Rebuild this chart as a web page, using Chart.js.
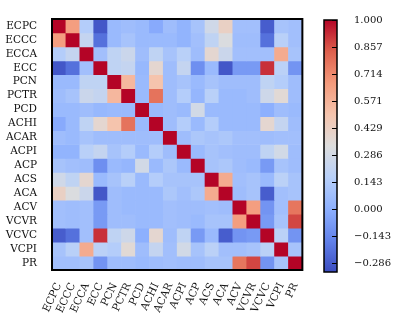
<!DOCTYPE html>
<html>
<head>
<meta charset="utf-8">
<script src="https://cdn.jsdelivr.net/npm/chart.js@4.4.1/dist/chart.umd.min.js"></script>
<style>
  html, body { margin: 0; padding: 0; background: #fff; }
  #wrap { position: relative; width: 405px; height: 327px; overflow: hidden; }
  #heat { position: absolute; left: 0; top: 0; }
  #cbar { position: absolute; left: 310px; top: 0; }
</style>
</head>
<body>
<div id="wrap">
  <canvas id="heat" width="310" height="327"></canvas>
  <canvas id="cbar" width="95" height="327"></canvas>
</div>
<script>
/* ─── Data ───────────────────────────────────────────────────────────────── */
const labels = ['ECPC', 'ECCC', 'ECCA', 'ECC', 'PCN', 'PCTR', 'PCD', 'ACHI', 'ACAR',
                'ACPI', 'ACP', 'ACS', 'ACA', 'ACV', 'VCVR', 'VCVC', 'VCPI', 'PR'];

// upper triangle of the correlation matrix, row i holds columns i+1..17
const upper = [
  [0.65, 0.15, -0.30, 0.05, 0.07, 0.05, -0.02, 0.07, 0.02, 0.10, 0.27, 0.42, 0.08, 0.08, -0.28, 0.10, 0.08],
  [0.22, -0.22, 0.05, 0.10, 0.05, 0.05, 0.05, 0.02, 0.08, 0.20, 0.32, 0.07, 0.07, -0.22, 0.17, 0.08],
  [0.08, 0.20, 0.25, 0.07, 0.20, 0.10, 0.17, 0.07, 0.38, 0.25, 0.08, 0.08, 0.08, 0.60, 0.10],
  [0.20, 0.22, 0.04, 0.38, 0.07, 0.22, -0.12, 0.05, -0.30, -0.08, -0.08, 0.92, 0.18, -0.10],
  [0.55, 0.05, 0.50, 0.07, 0.10, 0.05, 0.10, 0.07, 0.07, 0.07, 0.20, 0.15, 0.07],
  [0.05, 0.78, 0.07, 0.15, 0.03, 0.17, 0.05, 0.05, 0.07, 0.26, 0.36, 0.07],
  [0.05, 0.07, 0.05, 0.28, 0.05, 0.05, 0.05, 0.05, 0.00, 0.07, 0.05],
  [0.07, 0.15, 0.05, 0.15, 0.05, 0.05, 0.05, 0.38, 0.22, 0.07],
  [0.07, 0.12, 0.10, 0.12, 0.08, 0.08, 0.07, 0.08, 0.08],
  [0.05, 0.10, 0.08, 0.07, 0.07, 0.20, 0.28, 0.07],
  [0.10, 0.12, 0.07, 0.05, -0.08, 0.10, 0.07],
  [0.60, 0.08, 0.10, 0.05, 0.18, 0.10],
  [0.07, 0.10, -0.28, 0.08, 0.10],
  [0.65, -0.10, 0.08, 0.77],
  [-0.08, 0.10, 0.88],
  [0.18, -0.10],
  [0.10]
];

const vmin = -0.333;
const vmax = 1.0;
const cbarTicks = [-2, -1, 0, 1, 2, 3, 4, 5, 6, 7].map(k => k / 7);

/* ─── Helpers ────────────────────────────────────────────────────────────── */
const FONT  = { family: 'DejaVu Serif', size: 10.5 };
const CFONT = { family: 'DejaVu Serif', size: 10 };
const INK   = '#111';

// matplotlib coolwarm, sampled
const coolwarm = [
  [0.000, [59, 76, 192]],
  [0.125, [98, 130, 234]],
  [0.250, [141, 176, 254]],
  [0.375, [184, 208, 249]],
  [0.500, [221, 221, 221]],
  [0.625, [245, 196, 173]],
  [0.750, [244, 154, 123]],
  [0.875, [222, 96, 77]],
  [1.000, [180, 4, 38]]
];

function colorFor(v) {
  const t = Math.min(1, Math.max(0, (v - vmin) / (vmax - vmin)));
  for (let k = 1; k < coolwarm.length; k++) {
    const [t1, c1] = coolwarm[k];
    const [t0, c0] = coolwarm[k - 1];
    if (t <= t1) {
      const f = (t - t0) / (t1 - t0);
      const c = c0.map((a, i) => Math.round(a + (c1[i] - a) * f));
      return `rgb(${c[0]},${c[1]},${c[2]})`;
    }
  }
  return 'rgb(180,4,38)';
}

const n = labels.length;
const matrix = labels.map((_, i) => labels.map((_, j) => {
  if (i === j) return 1;
  return i < j ? upper[i][j - i - 1] : upper[j][i - j - 1];
}));

const frame = (width) => ({
  id: 'frame',
  afterDraw(chart) {
    const { ctx, chartArea: a } = chart;
    ctx.save();
    ctx.strokeStyle = '#000';
    ctx.lineWidth = width;
    ctx.strokeRect(a.left, a.top, a.right - a.left, a.bottom - a.top);
    ctx.restore();
  }
});

/* ─── Heatmap ────────────────────────────────────────────────────────────── */
new Chart(document.getElementById('heat'), {
  type: 'bar',
  data: {
    labels: labels,
    datasets: matrix.map((row, i) => ({
      label: labels[i],
      data: row.map(() => [i, i + 1]),
      backgroundColor: row.map(colorFor),
      borderWidth: 0,
      grouped: false,
      barPercentage: 1,
      categoryPercentage: 1
    }))
  },
  options: {
    responsive: false,
    animation: false,
    events: [],
    layout: { padding: { top: 19, right: 6, left: 0, bottom: 0 } },
    plugins: { legend: { display: false }, tooltip: { enabled: false } },
    scales: {
      x: {
        grid: { display: false },
        border: { display: false },
        ticks: { font: FONT, color: INK, minRotation: 65, maxRotation: 65, autoSkip: false, padding: 3 },
        afterFit: s => { s.height = 57; }
      },
      y: {
        type: 'linear',
        min: 0,
        max: n,
        reverse: true,
        grid: { display: false },
        border: { display: false },
        afterBuildTicks: s => { s.ticks = labels.map((_, i) => ({ value: i + 0.5 })); },
        ticks: { font: FONT, color: INK, autoSkip: false, padding: 7,
                 callback: v => labels[Math.floor(v)] },
        afterFit: s => { s.width = 52; }
      }
    }
  },
  plugins: [frame(2)]
});

/* ─── Colorbar ───────────────────────────────────────────────────────────── */
const cbarTickMarks = {
  id: 'cbarTicks',
  afterDraw(chart) {
    const { ctx, chartArea: a, scales } = chart;
    ctx.save();
    ctx.strokeStyle = '#000';
    ctx.lineWidth = 1;
    cbarTicks.forEach(v => {
      const y = Math.round(scales.y.getPixelForValue(v)) + 0.5;
      ctx.beginPath();
      ctx.moveTo(a.right - 5, y);
      ctx.lineTo(a.right, y);
      ctx.stroke();
    });
    ctx.restore();
  }
};

new Chart(document.getElementById('cbar'), {
  type: 'bar',
  data: {
    labels: [''],
    datasets: [{
      data: [[vmin, vmax]],
      backgroundColor: c => {
        const chart = c.chart;
        if (!chart.chartArea) return '#ddd';
        const y = chart.scales.y;
        const g = chart.ctx.createLinearGradient(0, y.getPixelForValue(vmin), 0, y.getPixelForValue(vmax));
        coolwarm.forEach(([t, col]) => g.addColorStop(t, `rgb(${col[0]},${col[1]},${col[2]})`));
        return g;
      },
      borderWidth: 0,
      barPercentage: 1,
      categoryPercentage: 1
    }]
  },
  options: {
    responsive: false,
    animation: false,
    events: [],
    layout: { padding: { top: 20, left: 14, right: 0, bottom: 55 } },
    plugins: { legend: { display: false }, tooltip: { enabled: false } },
    scales: {
      x: { display: false },
      y: {
        position: 'right',
        min: vmin,
        max: vmax,
        grid: { display: false },
        border: { display: false },
        afterBuildTicks: s => { s.ticks = cbarTicks.map(v => ({ value: v })); },
        ticks: { font: CFONT, color: INK, padding: 9,
                 callback: v => (v < -1e-9 ? '\u2212' : '') + Math.abs(v).toFixed(3) },
        afterFit: s => { s.width = 68; }
      }
    }
  },
  plugins: [frame(1.5), cbarTickMarks]
});
</script>
</body>
</html>
